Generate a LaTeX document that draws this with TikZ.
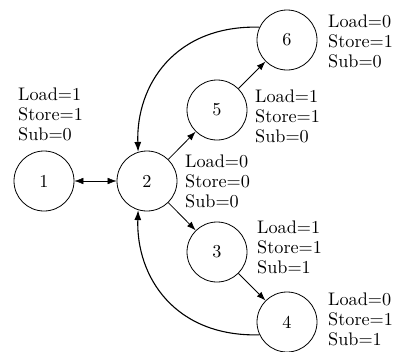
\documentclass[tikz,border=0pt]{standalone}
\usetikzlibrary{arrows.meta}
% text is set at 10pt and enlarged, so it keeps the wide 10pt design
\newcommand{\enlarged}[1]{\scalebox{1.82}{#1}}
\newcommand{\signals}[3]{\enlarged{\def\arraystretch{0.92}%
  \begin{tabular}[t]{@{}l@{}}#1\\#2\\#3\end{tabular}}}
\begin{document}
\begin{tikzpicture}[x=1pt,y=-1pt,
  state/.style={circle,draw,line width=0.8pt,minimum size=60pt,inner sep=0pt,
    font=\fontsize{10}{12}\selectfont},
  info/.style={anchor=base west,inner sep=0pt,
    font=\fontsize{10}{12}\selectfont},
  arr/.style={line width=0.8pt,-{Latex[length=9pt,width=6.5pt]}},
  loop/.style={line width=1.1pt,-{Latex[length=10pt,width=7pt]}}]
\useasboundingbox (0,0) rectangle (399,351);

% states
\node[state] (n1) at (44,181) {\enlarged{1}};
\node[state] (n2) at (147,181) {\enlarged{2}};
\node[state] (n5) at (217,110) {\enlarged{5}};
\node[state] (n6) at (287,40) {\enlarged{6}};
\node[state] (n3) at (217,252) {\enlarged{3}};
\node[state] (n4) at (287,322) {\enlarged{4}};

% control signals of each state (anchored at the first baseline)
\node[info] (l1) at (18,100) {\signals{Load=1}{Store=1}{Sub=0}};
\node[info] (l2) at (185,167) {\signals{Load=0}{Store=0}{Sub=0}};
\node[info] (l5) at (255,102) {\signals{Load=1}{Store=1}{Sub=0}};
\node[info] (l6) at (328,27) {\signals{Load=0}{Store=1}{Sub=0}};
\node[info] (l3) at (257,233) {\signals{Load=1}{Store=1}{Sub=1}};
\node[info] (l4) at (328,305) {\signals{Load=0}{Store=1}{Sub=1}};

% transitions
\draw[line width=0.5pt,{Latex[length=9pt,width=6.5pt]}-{Latex[length=9pt,width=6.5pt]}] (n1) -- (n2);
\draw[arr] (n2) -- (n5);
\draw[arr] (n5) -- (n6);
\draw[arr] (n2) -- (n3);
\draw[arr] (n3) -- (n4);
\draw[loop] (n6.155) .. controls (175,25) and (136,85) .. (n2.107);
\draw[loop] (n4.205) .. controls (175,337) and (136,277) .. (n2.253);
\end{tikzpicture}
\end{document}
